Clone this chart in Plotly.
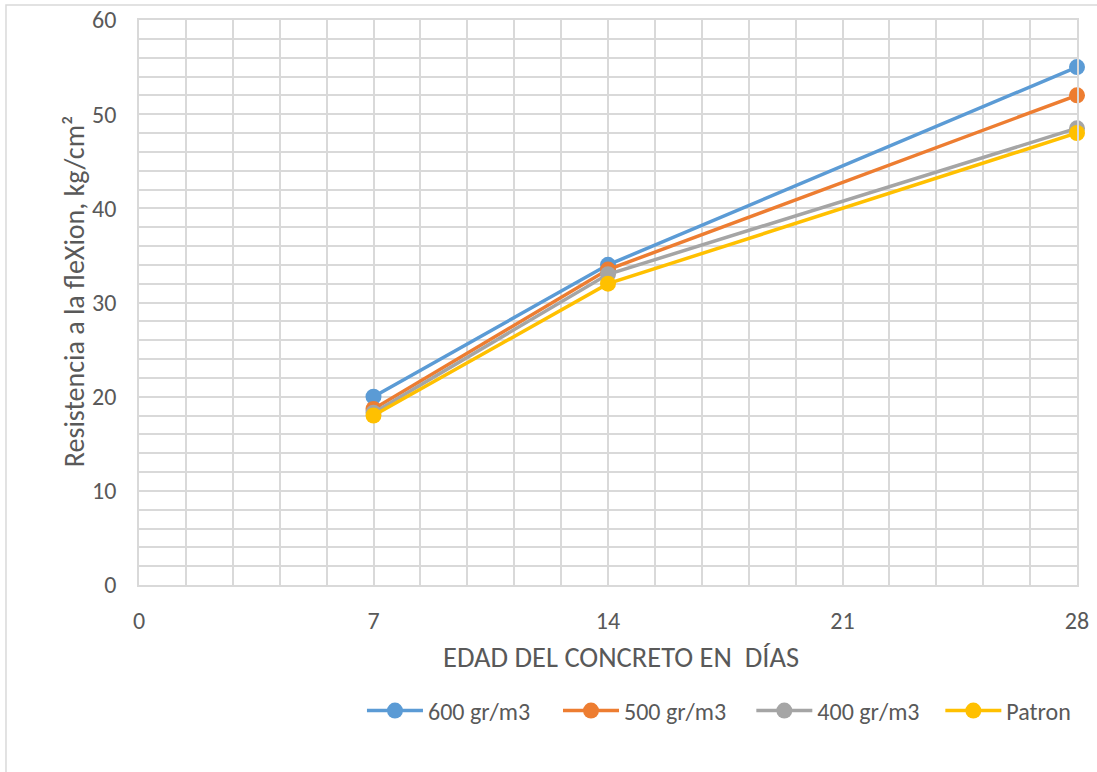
import plotly.graph_objects as go

dias = [7, 14, 28]
series_names = ["600 gr/m3", "500 gr/m3", "400 gr/m3", "Patron"]
v600 = [20, 34, 55]
v500 = [18.7, 33.5, 52]
v400 = [18.3, 33, 48.5]
patron = [18, 32, 48]
colors = ["#5B9BD5", "#ED7D31", "#A5A5A5", "#FFC000"]
x_ticks = [0, 7, 14, 21, 28]
x_title = "EDAD DEL CONCRETO EN  DÍAS"
y_title = "Resistencia a la fleXion, kg/cm²"

grid = "#d9d9d9"
font_c = "#595959"
fam = "Carlito, Open Sans, Liberation Sans, sans-serif"
legend_x = [0.2377, 0.4467, 0.6528, 0.8543]

fig = go.Figure()
layout_legends = {}
for i, (name, vals, c) in enumerate(zip(series_names, [v600, v500, v400, patron], colors)):
    lg = "legend" if i == 0 else f"legend{i+1}"
    fig.add_trace(go.Scatter(x=dias, y=vals, name=name, mode="lines+markers",
                             line=dict(color=c, width=3.5),
                             marker=dict(color=c, size=16), cliponaxis=False,
                             legend=lg))
    layout_legends[lg] = dict(orientation="h", x=legend_x[i], xanchor="left",
                              y=-0.223, yanchor="middle", itemwidth=56,
                              font=dict(size=24, color=font_c, family=fam),
                              bgcolor="rgba(0,0,0,0)")

fig.update_layout(
    width=1097, height=772,
    margin=dict(l=139, r=20, t=20, b=187, autoexpand=False),
    paper_bgcolor="white", plot_bgcolor="white",
    font=dict(family=fam, color=font_c, size=24),
    showlegend=True,
    shapes=[dict(type="rect", xref="paper", yref="paper",
                 x0=-0.1418, x1=1.03, y0=-0.34, y1=1.0265,
                 line=dict(color=grid, width=1.5), layer="below")],
    annotations=[
        dict(text=x_title, xref="paper", yref="paper", x=0.514, y=-0.129,
             xanchor="center", yanchor="middle", showarrow=False,
             font=dict(size=28.5, color=font_c, family=fam)),
        dict(text=y_title, xref="paper", yref="paper", x=-0.0693, y=0.52,
             xanchor="center", yanchor="middle", showarrow=False, textangle=-90,
             font=dict(size=28, color=font_c, family=fam)),
    ],
    **layout_legends,
)
fig.update_xaxes(range=[0, 28], tickvals=x_ticks, showgrid=True, gridcolor=grid, gridwidth=1.5,
                 minor=dict(dtick=1.4, tick0=0, showgrid=True, gridcolor=grid, gridwidth=1.5),
                 showline=True, linecolor=grid, linewidth=1.5, mirror=True, automargin=False,
                 zeroline=False, ticks="", ticklabelstandoff=13)
fig.update_yaxes(range=[0, 60], dtick=10, showgrid=True, gridcolor=grid, gridwidth=1.5,
                 minor=dict(dtick=2, tick0=0, showgrid=True, gridcolor=grid, gridwidth=1.5),
                 showline=True, linecolor=grid, linewidth=1.5, mirror=True, automargin=False,
                 zeroline=False, ticks="", ticklabelstandoff=16)

fig.write_html("out.html", config={"displayModeBar": False},
               post_script="document.body.style.margin='0';document.body.style.overflow='hidden';")
